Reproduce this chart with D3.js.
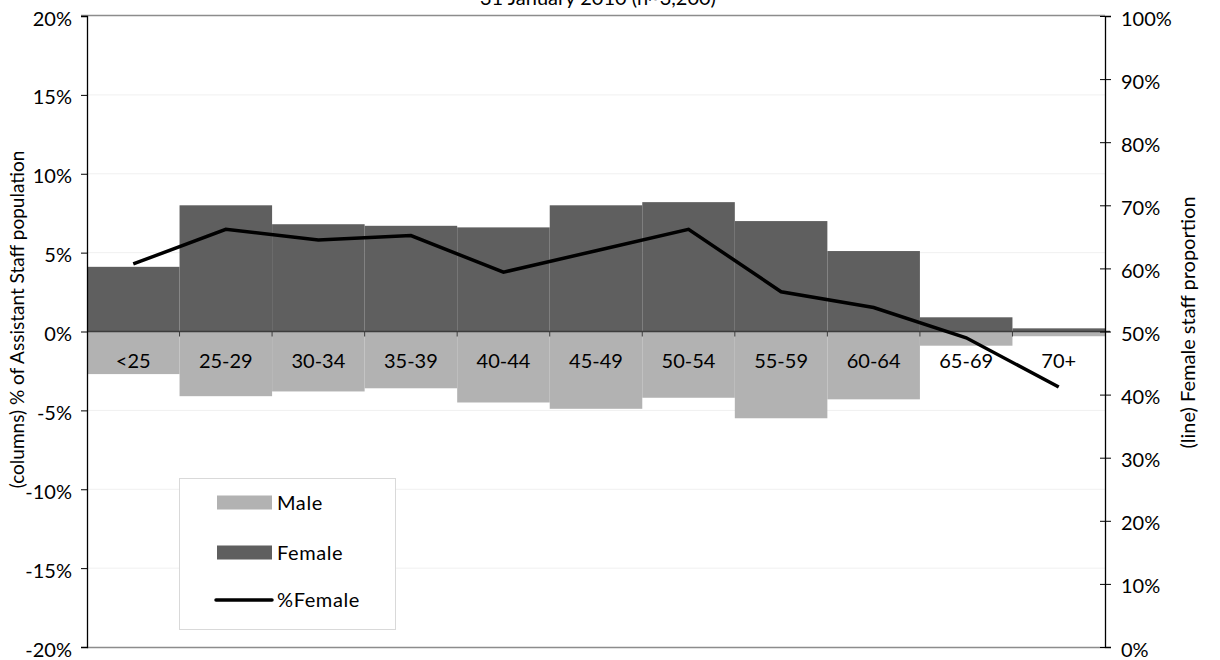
<!DOCTYPE html>
<html>
<head>
<meta charset="utf-8">
<script src="https://cdn.jsdelivr.net/npm/d3@7"></script>
<style>
  html, body { margin: 0; padding: 0; background: #fff; }
  svg { display: block; font-family: Lato, "Open Sans", sans-serif; }
</style>
</head>
<body>
<svg id="chart" width="1220" height="660"></svg>
<script>
// Age bands of assistant staff
const ageBands = ["<25", "25-29", "30-34", "35-39", "40-44", "45-49", "50-54", "55-59", "60-64", "65-69", "70+"];
// Share of the whole assistant staff population (%), by sex
const femaleShare = [4.1, 8.0, 6.8, 6.7, 6.6, 8.0, 8.2, 7.0, 5.1, 0.9, 0.2];
const maleShare = [2.7, 4.1, 3.8, 3.6, 4.5, 4.9, 4.2, 5.5, 4.3, 0.9, 0.3];
// Female proportion within each band (%)
const femalePct = [60.7, 66.2, 64.5, 65.2, 59.4, 62.8, 66.2, 56.3, 53.8, 49.0, 41.2];
// Axis ticks
const leftTicks = [-20, -15, -10, -5, 0, 5, 10, 15, 20];
const rightTicks = [0, 10, 20, 30, 40, 50, 60, 70, 80, 90, 100];

const svg = d3.select("#chart");
const plot = { left: 87, right: 1105, top: 16, bottom: 647 };

const x = d3.scaleBand().domain(ageBands).range([plot.left, plot.right]).padding(0);
const yL = d3.scaleLinear().domain([-20, 20]).range([plot.bottom, plot.top]);
const yR = d3.scaleLinear().domain([0, 100]).range([plot.bottom, plot.top]);

const FEMALE = "#5f5f5f", MALE = "#b2b2b2";

// Faint horizontal gridlines
svg.append("g")
  .selectAll("line")
  .data(leftTicks.filter(t => t !== 0 && Math.abs(t) !== 20))
  .join("line")
  .attr("x1", plot.left).attr("x2", plot.right)
  .attr("y1", d => yL(d)).attr("y2", d => yL(d))
  .attr("stroke", "#f0f0f0").attr("stroke-width", 1);

// Plot frame: top and bottom borders
svg.append("line").attr("x1", plot.left - 6).attr("x2", plot.right)
  .attr("y1", plot.top - 0.5).attr("y2", plot.top - 0.5)
  .attr("stroke", "#8c8c8c").attr("stroke-width", 1.6);
svg.append("line").attr("x1", plot.left).attr("x2", plot.right)
  .attr("y1", plot.bottom + 0.5).attr("y2", plot.bottom + 0.5)
  .attr("stroke", "#8c8c8c").attr("stroke-width", 1.6);

// Columns: female above zero, male below
svg.append("g").selectAll("rect")
  .data(ageBands.map((b, i) => ({ b, v: femaleShare[i] })))
  .join("rect")
  .attr("x", d => x(d.b)).attr("width", x.bandwidth())
  .attr("y", d => yL(d.v)).attr("height", d => yL(0) - yL(d.v))
  .attr("fill", FEMALE);

svg.append("g").selectAll("rect")
  .data(ageBands.map((b, i) => ({ b, v: maleShare[i] })))
  .join("rect")
  .attr("x", d => x(d.b)).attr("width", x.bandwidth())
  .attr("y", yL(0)).attr("height", d => yL(-d.v) - yL(0))
  .attr("fill", MALE);

// Category axis along zero
const xAxis = svg.append("g").attr("transform", `translate(0,${yL(0)})`);
xAxis.append("line").attr("x1", plot.left).attr("x2", plot.right + 5)
  .attr("stroke", "#3c3c3c").attr("stroke-width", 1.6);
xAxis.selectAll("line.tick")
  .data(ageBands.slice(1))
  .join("line").attr("class", "tick")
  .attr("x1", d => x(d)).attr("x2", d => x(d))
  .attr("y1", 0).attr("y2", 5)
  .attr("stroke", "#3c3c3c").attr("stroke-width", 1);
xAxis.selectAll("text")
  .data(ageBands)
  .join("text")
  .attr("x", d => x(d) + x.bandwidth() / 2)
  .attr("y", 36)
  .attr("text-anchor", "middle")
  .attr("font-size", 20)
  .attr("fill", "#000")
  .text(d => d);

// %Female line on the secondary axis
const line = d3.line()
  .x((d, i) => x(ageBands[i]) + x.bandwidth() / 2)
  .y(d => yR(d));
svg.append("path")
  .datum(femalePct)
  .attr("d", line)
  .attr("fill", "none")
  .attr("stroke", "#000")
  .attr("stroke-width", 3.5)
  .attr("stroke-linejoin", "miter");

// Left (columns) axis
const leftAxis = d3.axisLeft(yL).tickValues(leftTicks)
  .tickFormat(d => d + "%").tickSize(6).tickPadding(9);
const gL = svg.append("g").attr("transform", `translate(${plot.left},0)`).call(leftAxis);
gL.select(".domain").attr("stroke", "#000").attr("stroke-width", 1.3);
gL.selectAll(".tick line").attr("stroke", "#000");
gL.selectAll(".tick text").attr("font-size", 20).attr("font-family", "Lato").attr("fill", "#000").attr("dy", "0.45em");

// Right (line) axis, ticks cross the axis line
const rightAxis = d3.axisRight(yR).tickValues(rightTicks)
  .tickFormat(d => d + "%").tickSize(6).tickPadding(10);
const gR = svg.append("g").attr("transform", `translate(${plot.right},0)`).call(rightAxis);
gR.select(".domain").attr("stroke", "#000").attr("stroke-width", 1.3);
gR.selectAll(".tick line").attr("x1", -5).attr("stroke", "#000");
gR.selectAll(".tick text").attr("font-size", 20).attr("font-family", "Lato").attr("fill", "#000").attr("dy", "0.45em");

// Axis titles
svg.append("text")
  .attr("transform", `translate(24,${(plot.top + plot.bottom) / 2 - 12}) rotate(-90)`)
  .attr("text-anchor", "middle").attr("font-size", 19)
  .text("(columns) % of Assistant Staff population");
svg.append("text")
  .attr("transform", `translate(1195,${(plot.top + plot.bottom) / 2 - 9}) rotate(-90)`)
  .attr("text-anchor", "middle").attr("font-size", 20)
  .text("(line) Female staff proportion");

// Chart title (second line sits against the top edge)
svg.append("text")
  .attr("x", 598).attr("y", 5)
  .attr("text-anchor", "middle").attr("font-size", 20)
  .text("31 January 2010 (n~3,200)");

// Legend
const legend = svg.append("g");
legend.append("rect").attr("x", 179.5).attr("y", 478.5).attr("width", 216).attr("height", 151)
  .attr("fill", "#fff").attr("stroke", "#d9d9d9").attr("stroke-width", 1);
const legendItems = [
  { label: "Male", kind: "rect", color: MALE, cy: 503 },
  { label: "Female", kind: "rect", color: FEMALE, cy: 553 },
  { label: "%Female", kind: "line", color: "#000", cy: 600 }
];
legendItems.forEach(it => {
  if (it.kind === "rect") {
    legend.append("rect").attr("x", 217).attr("y", it.cy - 7.5).attr("width", 55).attr("height", 14).attr("fill", it.color);
  } else {
    legend.append("line").attr("x1", 216).attr("x2", 272).attr("y1", it.cy).attr("y2", it.cy)
      .attr("stroke", it.color).attr("stroke-width", 3.5).attr("stroke-linecap", "round");
  }
  legend.append("text").attr("x", 277).attr("y", it.cy + 7)
    .attr("font-size", 20).attr("letter-spacing", 0.6).text(it.label);
});
</script>
</body>
</html>
